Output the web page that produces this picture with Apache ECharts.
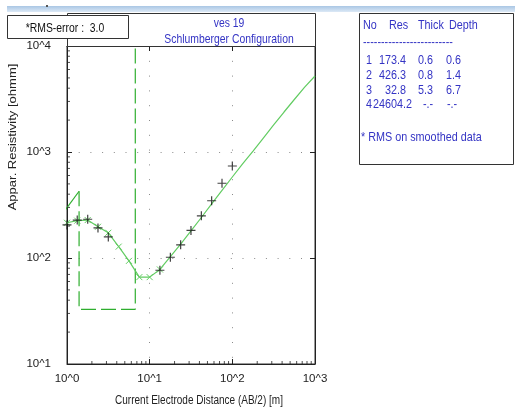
<!DOCTYPE html>
<html>
<head>
<meta charset="utf-8">
<script src="https://cdn.jsdelivr.net/npm/echarts@6/dist/echarts.min.js"></script>
<style>
html,body{margin:0;padding:0;background:#ffffff;}
#chart{width:515px;height:408px;}
</style>
</head>
<body>
<div id="chart"></div>
<script>
// ---- data ----
const xTickLabels = ['10^0', '10^1', '10^2', '10^3'];
const yTickLabels = ['10^1', '10^2', '10^3', '10^4'];

// field data (AB/2 [m], apparent resistivity [ohmm])
const fieldAB  = [1, 1.33, 1.78, 2.37, 3.16, 13.3, 17.8, 23.7, 31.6, 42.2, 56.2, 75, 100];
const fieldRho = [205, 228, 232, 192, 158, 76.6, 101.6, 133, 182, 250, 347, 507, 738];

// calculated (smoothed) curve
const calcAB  = [1, 1.33, 1.78, 2.37, 3.16, 4.22, 5.62, 7.5, 10, 13.3, 17.8, 23.7, 31.6, 42.2, 56.2, 75, 100, 133, 178, 237, 316, 422, 562, 750, 1000];
const calcRho = [215, 225, 228, 197, 173, 128, 94, 66, 66, 78, 103, 135, 180, 241, 324, 434, 581, 771, 1021, 1355, 1800, 2384, 3128, 4100, 5210];
const calcMarkedUpTo = 13.3;

// layered model
const layerNo    = [1, 2, 3, 4];
const layerRes   = [173.4, 426.3, 32.8, 24604.2];
const layerThick = ['0.6', '0.8', '5.3', '-.-'];
const layerDepth = ['0.6', '1.4', '6.7', '-.-'];
const depthVals  = [0.6, 1.4, 6.7];

const rmsError = '3.0';
const titleLines = ['ves 19', 'Schlumberger Configuration'];

const minorMult = [2, 3, 4, 5, 6, 7, 8, 9];
const xDecades = [1, 10, 100];
const yDecades = [10, 100, 1000];

// ---- styling ----
const FR = '"Liberation Sans",Arial,sans-serif';
const SX = 0.8; // horizontal squeeze of the reference text
const BLUE = '#3434c4';
const AX = '#222222';
const CURVE = '#62cc62';
const MODEL = '#2fae2f';

// model polyline from layer arrays
const modelPts = [
  [depthVals[0], layerRes[0]],
  [depthVals[1], layerRes[1]],
  [depthVals[1], layerRes[2]],
  [depthVals[2], layerRes[2]],
  [depthVals[2], layerRes[3]]
];

const minorX = [];
xDecades.forEach(d => minorMult.forEach(m => minorX.push([d * m, 10])));
const minorY = [];
yDecades.forEach(d => minorMult.forEach(m => minorY.push([1, d * m])));

const crossPath = 'path://M0,0L10,10M10,0L0,10';
const plusPath = 'path://M5,0L5,10M0,5L10,5';

const calcData = calcAB.map((x, i) => {
  const it = { value: [x, calcRho[i]] };
  if (x > calcMarkedUpTo) it.symbol = 'none';
  return it;
});

const lbl = (v) => '10^' + Math.round(Math.log10(v));

const chart = echarts.init(document.getElementById('chart'), null, { renderer: 'canvas' });

const gridL = 67, gridT = 46, gridW = 248, gridH = 318;

const txt = (text, x, y, fill, size, align, extra) => Object.assign({
  type: 'text', x: x, y: y, silent: true, z: 5, scaleX: SX,
  style: { text: text, fill: fill, font: size + 'px ' + FR, align: align || 'left', verticalAlign: 'middle' }
}, extra || {});

const graphics = [
  // top band
  { type: 'rect', shape: { x: 7, y: 6, width: 508, height: 6 }, silent: true,
    style: { fill: new echarts.graphic.LinearGradient(0, 0, 0, 1, [{ offset: 0, color: '#a9c6e4' }, { offset: 1, color: '#dce9f6' }]) } },
  { type: 'rect', shape: { x: 46, y: 5, width: 2, height: 2 }, silent: true, style: { fill: '#555' } },
  // title box
  { type: 'rect', shape: { x: gridL + 0.5, y: 13.5, width: gridW, height: gridT - 13 }, silent: true,
    style: { fill: '#ffffff', stroke: '#333', lineWidth: 1 }, z: 1 },
  txt(titleLines[0], 229, 23, BLUE, 13, 'center'),
  txt(titleLines[1], 229, 39, BLUE, 13, 'center'),
  // RMS box
  { type: 'rect', shape: { x: 7.5, y: 15.5, width: 121, height: 23 }, silent: true,
    style: { fill: '#ffffff', stroke: '#333', lineWidth: 1 }, z: 3 },
  txt('*RMS-error :  ' + rmsError, 65, 28, '#111', 13, 'center', { z: 6 }),
  // legend box
  { type: 'rect', shape: { x: 359.5, y: 13.5, width: 154, height: 151 }, silent: true,
    style: { fill: '#ffffff', stroke: '#333', lineWidth: 1 }, z: 1 },
  // axis titles
  txt('Current Electrode Distance (AB/2) [m]', 199, 401, '#222', 12.5, 'center'),
  { type: 'text', x: 13, y: 137, rotation: Math.PI / 2, scaleY: 0.85, silent: true,
    style: { text: 'Appar. Resistivity [ohmm]', fill: '#222', font: '13px ' + FR, align: 'center', verticalAlign: 'middle' } }
];

// legend table texts
const LS = 13.5;
graphics.push(txt('No', 363, 25, BLUE, LS));
graphics.push(txt('Res', 389, 25, BLUE, LS));
graphics.push(txt('Thick', 418, 25, BLUE, LS));
graphics.push(txt('Depth', 449, 25, BLUE, LS));
graphics.push(txt('-------------------------', 363, 42, BLUE, LS));
const rowY = [60, 75.5, 90, 104.5];
layerNo.forEach((n, i) => {
  graphics.push(txt(String(n), 366, rowY[i], BLUE, LS));
  const r = layerRes[i].toFixed(1);
  if (layerRes[i] >= 10000) graphics.push(txt(r, 373, rowY[i], BLUE, LS));
  else graphics.push(txt(r, 406, rowY[i], BLUE, LS, 'right'));
  graphics.push(txt(layerThick[i], i === 3 ? 423 : 418, rowY[i], BLUE, LS));
  graphics.push(txt(layerDepth[i], i === 3 ? 447 : 446, rowY[i], BLUE, LS));
});
graphics.push(txt('* RMS on smoothed data', 361, 137, BLUE, LS));

const axisCommon = {
  type: 'log', logBase: 10,
  axisLine: { show: true, onZero: false, lineStyle: { color: AX, width: 1 } },
  axisTick: { show: true, inside: true, length: 5, lineStyle: { color: AX } },
  minorTick: { show: false }
};

const option = {
  backgroundColor: '#ffffff',
  animation: false,
  grid: { left: gridL, top: gridT, width: gridW, height: gridH, show: true, borderColor: '#333', borderWidth: 1, backgroundColor: 'transparent' },
  xAxis: [
    Object.assign({}, axisCommon, {
      min: 1, max: 1000, position: 'bottom',
      axisLabel: { formatter: lbl, color: '#222', fontSize: 11.5, fontFamily: FR, margin: 9 },
      splitLine: { show: true, lineStyle: { color: '#8a8a8a', type: [1, 13.8], width: 1 } }
    }),
    Object.assign({}, axisCommon, {
      min: 1, max: 1000, position: 'top',
      axisLabel: { show: false }, splitLine: { show: false }
    })
  ],
  yAxis: [
    Object.assign({}, axisCommon, {
      min: 10, max: 10000, position: 'left',
      axisLabel: { formatter: lbl, color: '#222', fontSize: 11.5, fontFamily: FR, margin: 16 },
      splitLine: { show: true, lineStyle: { color: '#8a8a8a', type: [1, 10.7], width: 1 } }
    }),
    Object.assign({}, axisCommon, {
      min: 10, max: 10000, position: 'right',
      axisLabel: { show: false }, splitLine: { show: false }
    })
  ],
  graphic: graphics,
  series: [
    {
      name: 'model-top', type: 'line', data: modelPts.slice(0, 2), clip: true,
      symbol: 'none', lineStyle: { color: MODEL, width: 1.2 }, z: 3, silent: true
    },
    {
      name: 'model', type: 'line', data: modelPts.slice(1), clip: true,
      symbol: 'none', lineStyle: { color: MODEL, width: 1.2, type: [15, 5] }, z: 3, silent: true
    },
    {
      name: 'calculated', type: 'line', data: calcData, clip: true,
      symbol: crossPath, symbolSize: 6, showAllSymbol: true,
      itemStyle: { color: 'transparent', borderColor: CURVE, borderWidth: 1 },
      lineStyle: { color: CURVE, width: 1.2 }, z: 4, silent: true
    },
    {
      name: 'field', type: 'scatter', data: fieldAB.map((x, i) => [x, fieldRho[i]]),
      symbol: plusPath, symbolSize: 9,
      itemStyle: { color: 'transparent', borderColor: '#111', borderWidth: 1.2 }, z: 5, silent: true
    },
    {
      name: 'minorX', type: 'scatter', data: minorX, symbol: 'rect', symbolSize: [1, 3], symbolOffset: [0, -1.5],
      itemStyle: { color: AX }, z: 6, silent: true, clip: false
    },
    {
      name: 'minorY', type: 'scatter', data: minorY, symbol: 'rect', symbolSize: [3, 1], symbolOffset: [1.5, 0],
      itemStyle: { color: AX }, z: 6, silent: true, clip: false
    }
  ]
};
chart.setOption(option);
</script>
</body>
</html>
